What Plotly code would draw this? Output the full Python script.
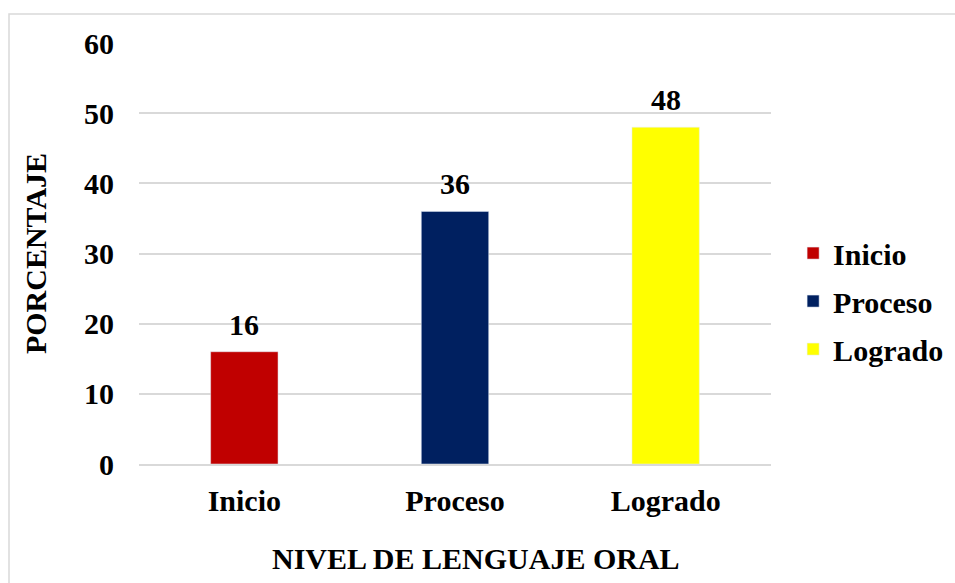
import plotly.graph_objects as go

categories = ["Inicio", "Proceso", "Logrado"]
values = [16, 36, 48]
colors = ["#C00000", "#002060", "#FFFF00"]
y_ticks = [0, 10, 20, 30, 40, 50, 60]

FONT = "Liberation Serif"
FS = 30

fig = go.Figure()
for cat, val, col in zip(categories, values, colors):
    fig.add_trace(go.Bar(
        x=[cat], y=[val], name=cat, marker_color=col, width=0.32,
        legendgroup=cat,
    ))
    fig.add_annotation(x=cat, y=val, text=str(val), showarrow=False,
                       yanchor="bottom", yshift=9,
                       font=dict(family=FONT, size=FS, color="black", weight="bold"))

fig.add_annotation(xref="paper", yref="paper", x=0.533, y=-0.2233,
                   xanchor="center", yanchor="middle", showarrow=False,
                   text="NIVEL DE LENGUAJE ORAL",
                   font=dict(family=FONT, size=FS, color="black", weight="bold"))

fig.update_layout(
    width=955, height=583,
    margin=dict(l=139, r=184, t=43, b=119, autoexpand=False),
    paper_bgcolor="white", plot_bgcolor="white",
    barmode="overlay",
    font=dict(family=FONT, color="black"),
    legend=dict(x=1.035, y=0.387, xanchor="left", yanchor="middle",
                bgcolor="rgba(0,0,0,0)",
                font=dict(family=FONT, size=FS, color="black", weight="bold"),
                tracegroupgap=6, itemwidth=30),
    showlegend=True,
)
fig.update_xaxes(
    categoryorder="array", categoryarray=categories,
    tickfont=dict(family=FONT, size=FS, color="black", weight="bold"),
    ticklabelstandoff=9,
    showline=True, linecolor="#d9d9d9", linewidth=1.5,
)
fig.update_yaxes(
    range=[0, 60], tickvals=y_ticks,
    tickfont=dict(family=FONT, size=FS, color="black", weight="bold"),
    ticklabelstandoff=24,
    showgrid=True, gridcolor="#d9d9d9", gridwidth=1.5, zeroline=False,
    title=dict(text="PORCENTAJE",
               font=dict(family=FONT, size=FS, color="black", weight="bold"), standoff=28),
)
fig.add_shape(type="rect", xref="paper", yref="paper",
              x0=-0.2057, y0=-0.6, x1=1.6, y1=1.0689,
              line=dict(color="#d9d9d9", width=1.5), fillcolor="rgba(0,0,0,0)", layer="below")

fig.write_html("out.html", config={"displayModeBar": False},
               post_script="document.body.style.margin='0';document.body.style.overflow='hidden';")
